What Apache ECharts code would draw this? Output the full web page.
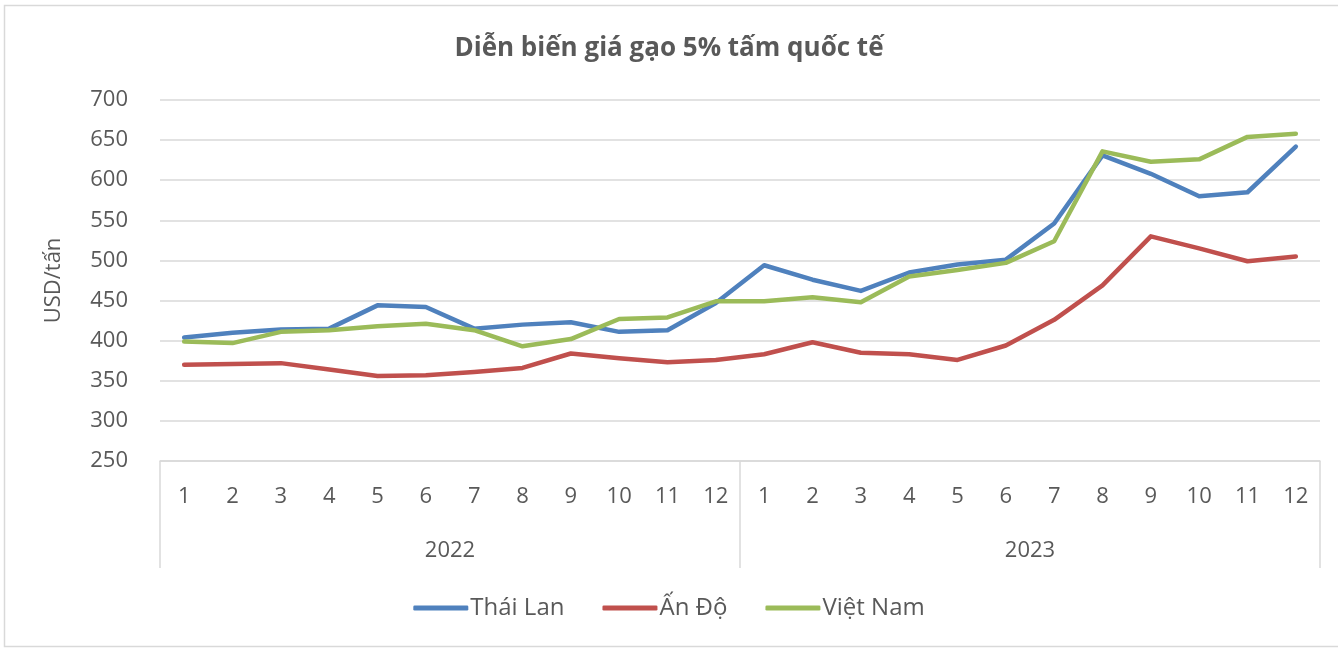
<!DOCTYPE html>
<html>
<head>
<meta charset="utf-8">
<script src="https://cdn.jsdelivr.net/npm/echarts@6/dist/echarts.min.js"></script>
<style>
  html, body { margin: 0; padding: 0; background: #fff; }
  #main { width: 1338px; height: 648px; }
</style>
</head>
<body>
<div id="main"></div>
<script>
// nhãn trục
const months = ['1','2','3','4','5','6','7','8','9','10','11','12','1','2','3','4','5','6','7','8','9','10','11','12']
const years = ['2022', '2023']

// giá gạo 5% tấm (USD/tấn), tháng 1/2022 -> 12/2023
const thaiLan = [404, 410, 414, 415, 444, 442, 415, 420, 423, 411, 413, 447,
                 494, 476, 462, 485, 495, 501, 546, 631, 608, 580, 585, 642]
const anDo = [370, 371, 372, 364, 356, 357, 361, 366, 384, 378, 373, 376,
              383, 398, 385, 383, 376, 394, 426, 469, 530, 515, 499, 505]
const vietNam = [399, 397, 411, 413, 418, 421, 413, 393, 402, 427, 429, 449,
                 449, 454, 448, 480, 488, 497, 524, 636, 623, 626, 654, 658]

const font = "'Open Sans', 'Noto Sans', sans-serif"
const textColor = '#595959'
const lineColor = '#D9D9D9'

var myChart = echarts.init(document.getElementById('main'))

var option = {
  animation: false,
  backgroundColor: '#fff',
  textStyle: { fontFamily: font },
  title: {
    text: 'Diễn biến giá gạo 5% tấm quốc tế',
    left: 'center',
    top: 31,
    textStyle: { fontFamily: font, fontSize: 26, fontWeight: 'bold', color: textColor }
  },
  graphic: [{
    type: 'rect',
    shape: { x: 4.5, y: 5.5, width: 1340, height: 641 },
    style: { fill: 'none', stroke: lineColor, lineWidth: 1.5 },
    silent: true
  }],
  legend: {
    data: ['Thái Lan', 'Ấn Độ', 'Việt Nam'],
    left: 'center',
    top: 591,
    icon: 'roundRect',
    itemWidth: 55,
    itemHeight: 5,
    itemGap: 38,
    textStyle: { fontFamily: font, fontSize: 24, color: textColor, padding: [0, 0, 0, -3] }
  },
  grid: { left: 160, right: 18, top: 100, bottom: 187 },
  xAxis: [
    {
      type: 'category',
      data: months,
      boundaryGap: true,
      position: 'bottom',
      axisLine: { show: true, lineStyle: { color: lineColor, width: 1.5 } },
      axisTick: { show: false },
      axisLabel: { interval: 0, margin: 25, fontFamily: font, fontSize: 22, color: textColor }
    },
    {
      type: 'category',
      data: years,
      boundaryGap: true,
      position: 'bottom',
      offset: 0,
      axisLine: { show: false },
      axisTick: { show: true, length: 107, lineStyle: { color: lineColor, width: 1.5 } },
      axisLabel: { interval: 0, margin: 79, fontFamily: font, fontSize: 22, color: textColor }
    }
  ],
  yAxis: {
    type: 'value',
    min: 250,
    max: 700,
    interval: 50,
    name: 'USD/tấn',
    nameLocation: 'middle',
    nameGap: 95,
    nameTextStyle: { fontFamily: font, fontSize: 22, color: textColor },
    axisLine: { show: false },
    axisTick: { show: false },
    axisLabel: { margin: 32, fontFamily: font, fontSize: 22, color: textColor },
    splitLine: { lineStyle: { color: lineColor, width: 1.5 } }
  },
  series: [
    {
      name: 'Thái Lan',
      type: 'line',
      xAxisIndex: 0,
      data: thaiLan,
      showSymbol: false,
      itemStyle: { color: '#4F81BD' },
      lineStyle: { color: '#4F81BD', width: 4.5, cap: 'round', join: 'round' }
    },
    {
      name: 'Ấn Độ',
      type: 'line',
      xAxisIndex: 0,
      data: anDo,
      showSymbol: false,
      itemStyle: { color: '#C0504D' },
      lineStyle: { color: '#C0504D', width: 4.5, cap: 'round', join: 'round' }
    },
    {
      name: 'Việt Nam',
      type: 'line',
      xAxisIndex: 0,
      data: vietNam,
      showSymbol: false,
      itemStyle: { color: '#9BBB59' },
      lineStyle: { color: '#9BBB59', width: 4.5, cap: 'round', join: 'round' }
    }
  ]
}

myChart.setOption(option)
window.onresize = () => {
  myChart.resize()
}
</script>
</body>
</html>
